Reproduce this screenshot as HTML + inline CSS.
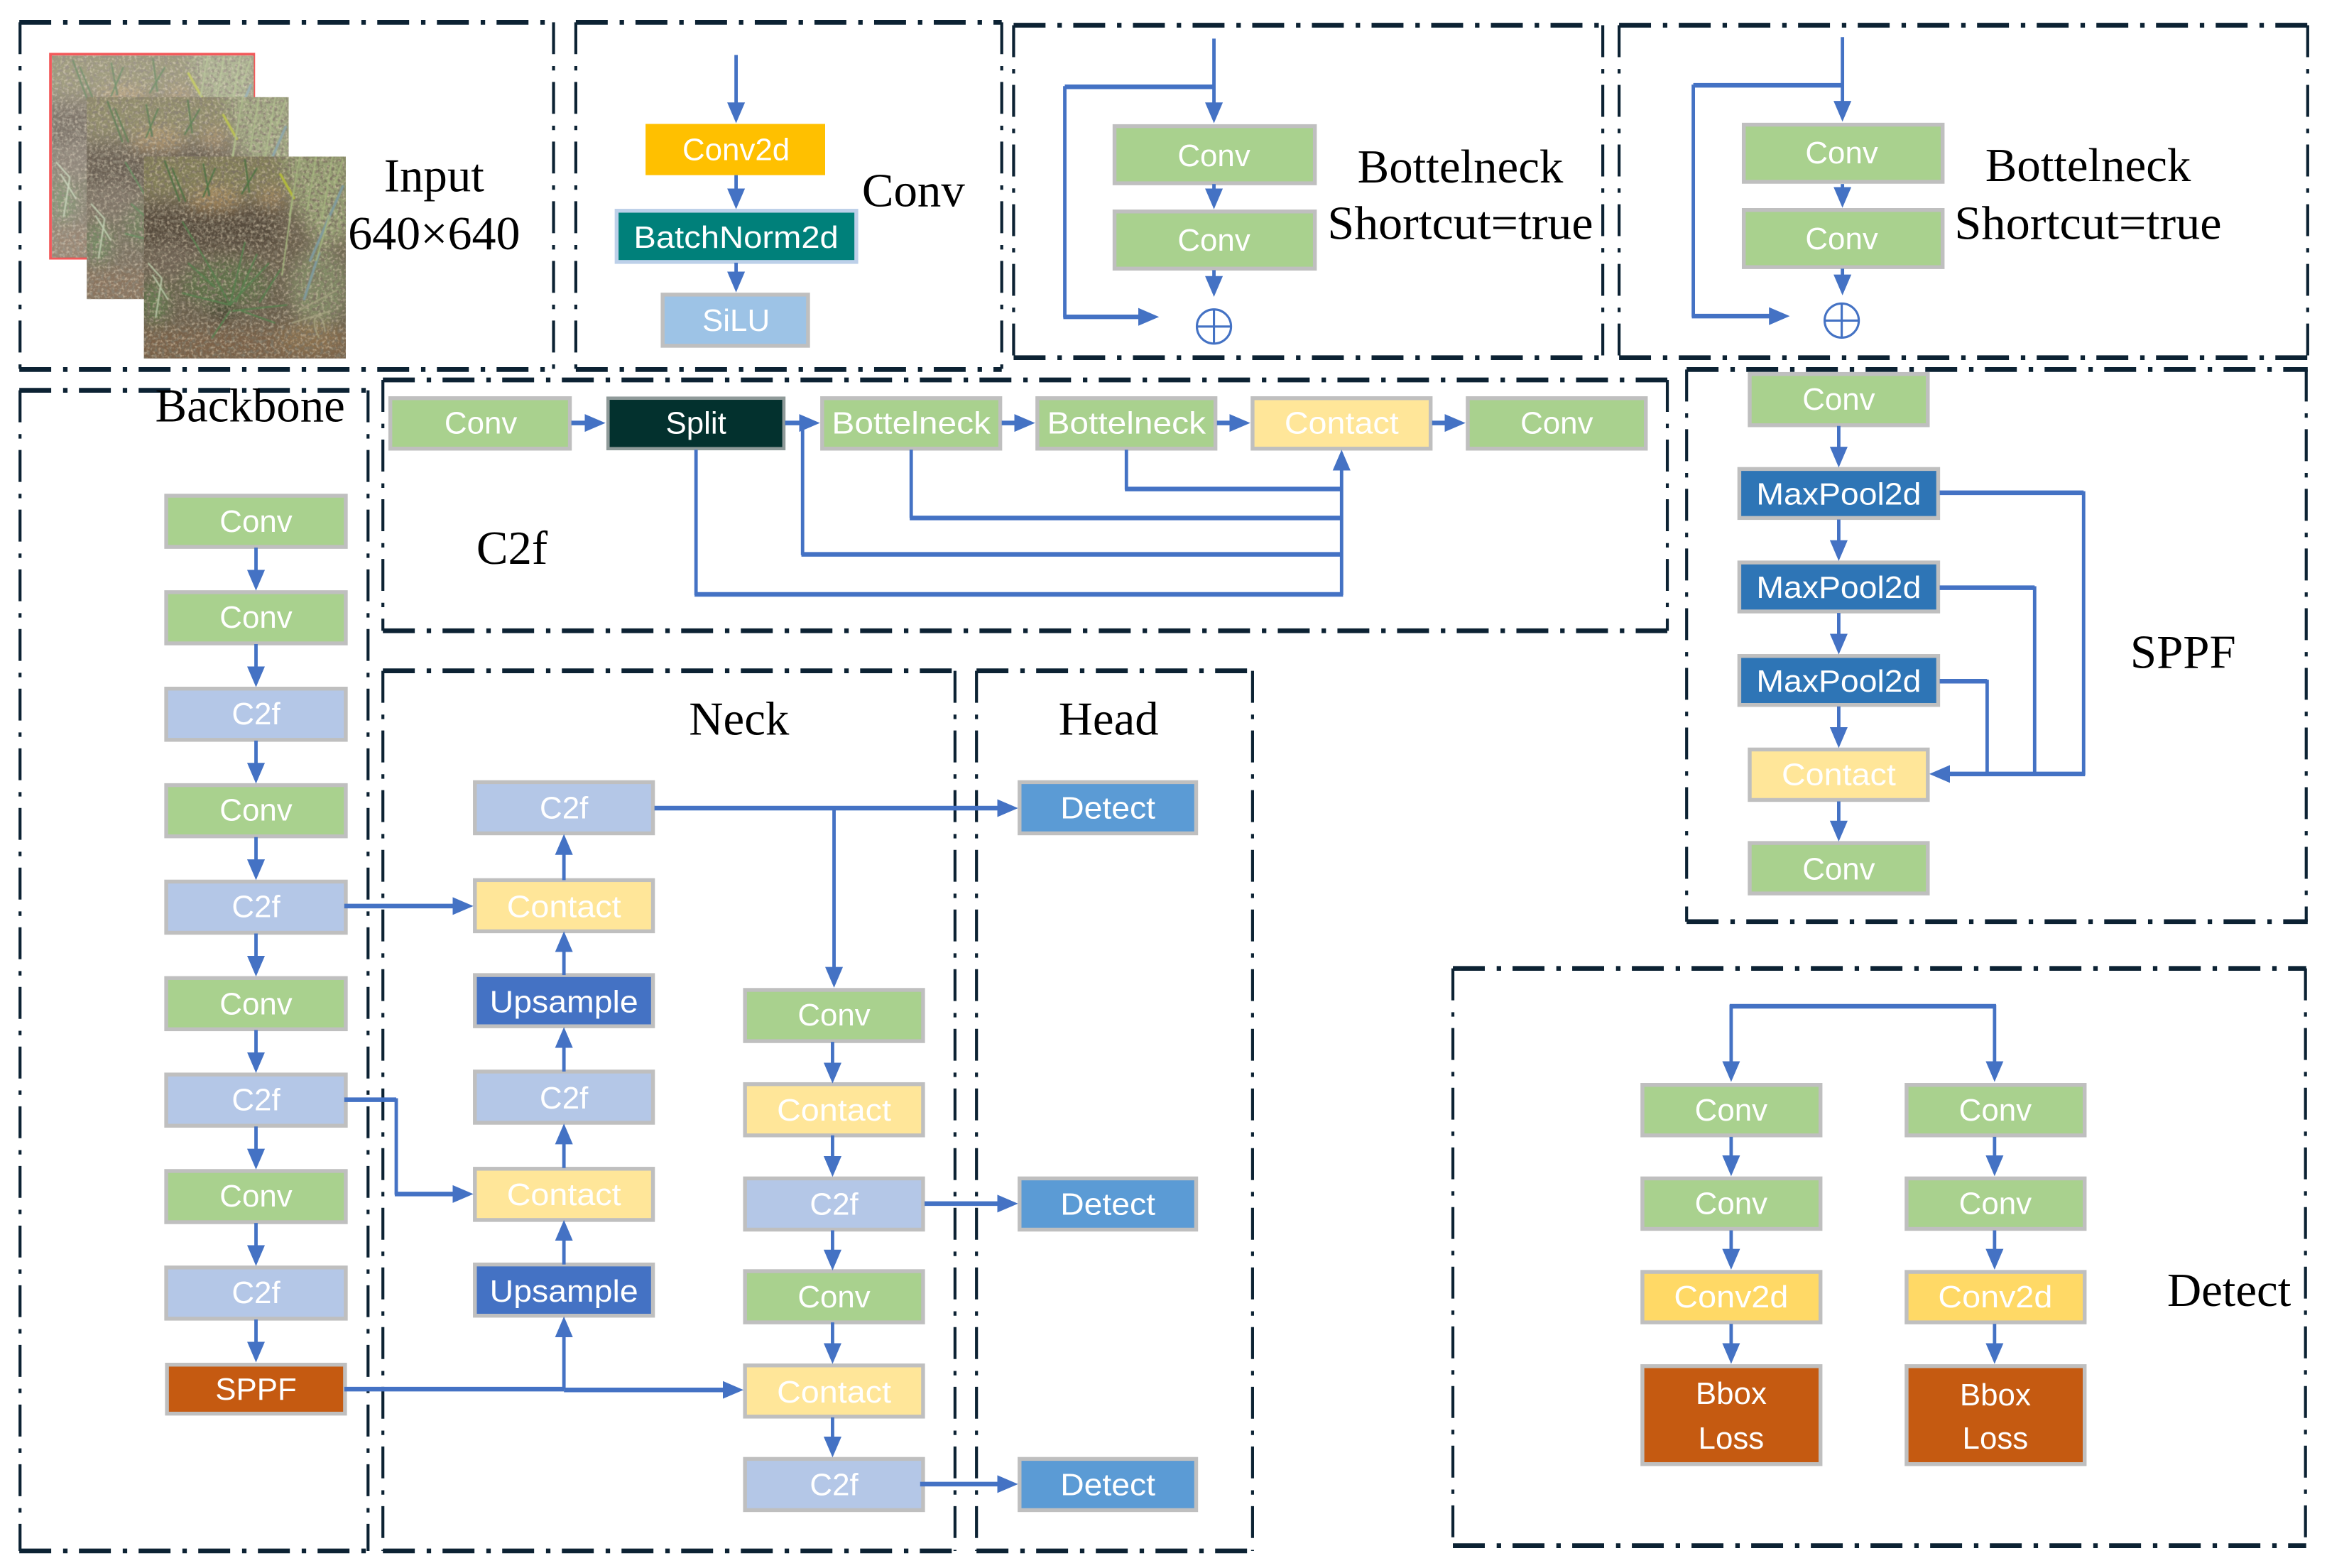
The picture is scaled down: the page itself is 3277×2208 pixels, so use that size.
<!DOCTYPE html>
<html><head><meta charset="utf-8"><title>Network diagram</title>
<style>
html,body{margin:0;padding:0;background:#fff;width:3277px;height:2208px;overflow:hidden}
svg{display:block}
.fh{stroke:#0c2233;stroke-width:3.2;stroke-dasharray:21.5 8 3 7.7;fill:none}
.fv{stroke:#0c2233;stroke-width:2;stroke-dasharray:21.5 8 3 7.7;fill:none}
.b{stroke:#bfbfbf;stroke-width:2.6}
.t{font-family:"Liberation Sans",sans-serif;font-size:21px;fill:#fff;text-anchor:middle}
.s{font-family:"Liberation Serif",serif;font-size:32px;fill:#000;text-anchor:middle}
.v{stroke:#4472c4;stroke-width:2.3;fill:none}
.h{stroke:#4472c4;stroke-width:3.1;fill:none}
.a{marker-end:url(#m)}
.c{fill:#a9d18e}.f{fill:#b4c7e7}.k{fill:#ffe699}.u{fill:#4472c4}.d{fill:#5b9bd5}.p{fill:#2e75b6}.y{fill:#ffd966}.o{fill:#c55a11}
</style></head><body>
<svg xmlns="http://www.w3.org/2000/svg" width="3277" height="2208" viewBox="0 0 1568 1056.5">
<defs>
<marker id="m" markerUnits="userSpaceOnUse" markerWidth="15" markerHeight="14" refX="9" refY="6.5" orient="auto"><path d="M0 0.5L14 6.5L0 12.5Z" fill="#4472c4"/></marker>
<filter id="n" x="0" y="0" width="1" height="1"><feTurbulence type="fractalNoise" baseFrequency=".42" numOctaves="2" seed="4"/><feColorMatrix values="0 0 0 0 .2  0 0 0 0 .17  0 0 0 0 .12  3 0 0 0 -1.25"/></filter>
<filter id="n2" x="0" y="0" width="1" height="1"><feTurbulence type="fractalNoise" baseFrequency=".5" numOctaves="2" seed="9"/><feColorMatrix values="0 0 0 0 .8  0 0 0 0 .68  0 0 0 0 .5  0 3 0 0 -1.45"/></filter>
<filter id="bl" x="-10%" y="-10%" width="120%" height="120%"><feGaussianBlur stdDeviation="5"/></filter>
<filter id="bs"><feGaussianBlur stdDeviation=".35"/></filter>
<clipPath id="pc"><rect width="136" height="136"/></clipPath>
<g id="photo" clip-path="url(#pc)">
<rect width="136" height="136" fill="#6a5f4d"/>
<g filter="url(#bl)">
<rect x="-5" y="-5" width="100" height="32" fill="#84805a"/>
<ellipse cx="48" cy="30" rx="16" ry="9" fill="#a98c60"/>
<ellipse cx="86" cy="27" rx="9" ry="6" fill="#a58a62"/>
<path d="M92 -5H140V55L118 62L100 30Z" fill="#98a276"/>
<rect x="-5" y="34" width="95" height="28" fill="#564b3e"/>
<ellipse cx="18" cy="70" rx="18" ry="12" fill="#6f6454"/>
<ellipse cx="55" cy="86" rx="30" ry="16" fill="#5f6f48"/>
<ellipse cx="118" cy="88" rx="20" ry="26" fill="#828a66"/>
<ellipse cx="8" cy="98" rx="9" ry="14" fill="#617a4d"/>
<rect x="-5" y="116" width="146" height="25" fill="#7a6249"/>
<ellipse cx="112" cy="122" rx="22" ry="10" fill="#8a7150"/>
<ellipse cx="53" cy="104" rx="6" ry="7" fill="#343428"/>
</g>
<rect width="136" height="136" filter="url(#n)"/>
<rect width="136" height="136" filter="url(#n2)" opacity=".5"/>
<g fill="none" stroke-linecap="round" filter="url(#bs)">
<path d="M134 20L112 70M118 65L108 96" stroke="#7f9a9c" stroke-width="1.7"/>
<path d="M92 12L101 28" stroke="#b3bb3a" stroke-width="1.6"/>
<path d="M105 0L98 40M116 0L110 36M127 0L120 42M134 2L128 20M100 30L93 80M125 40L116 70" stroke="#a5b67e" stroke-width=".9"/>
<path d="M14 3L24 30M19 8L28 30M40 5L44 26M48 8L40 27M68 2L71 24M76 8L66 25" stroke="#4e7242" stroke-width="1"/>
<path d="M26 44L44 74L58 100M58 100L68 58M58 100L84 72M58 100L26 92M60 104L96 100M58 104L46 122M62 98L76 66M48 88L30 72M66 104L88 112M92 76L78 98" stroke="#56804e" stroke-width="1"/>
<path d="M3 72L12 82L8 108M6 80L16 96" stroke="#b8c6a6" stroke-width="1"/>
<path d="M118 122C110 108 120 100 122 118M104 104L130 90M100 112L126 104" stroke="#a8a583" stroke-width=".8"/>
</g>
</g>
</defs>
<rect width="1568" height="1056.5" fill="#fff"/>

<!-- photo stack -->
<rect x="34" y="36.5" width="137" height="137.5" fill="none" stroke="#f2595a" stroke-width="1.8"/>
<g transform="translate(35,37.5)"><use href="#photo"/><rect width="136" height="136" fill="#fff" opacity=".24"/></g>
<g transform="translate(58.5,65.5)"><use href="#photo"/><rect width="136" height="136" fill="#fff" opacity=".12"/></g>
<use href="#photo" x="97" y="105.5"/>

<!-- frames -->
<g>
<path class="fh" d="M13 15H373M13 249H373"/><path class="fv" d="M13.5 15V249M373 15V249"/>
<path class="fh" d="M388 15H675M388 249H675"/><path class="fv" d="M388 15V249M675 15V249"/>
<path class="fh" d="M683 17H1080M683 241H1080"/><path class="fv" d="M683 17V241M1080 17V241"/>
<path class="fh" d="M1091 17H1556M1091 241H1556"/><path class="fv" d="M1091 17V241M1555 17V241"/>
<path class="fh" d="M13 263H248M13 1045H248"/><path class="fv" d="M13.5 263V1045M248 263V1045"/>
<path class="fh" d="M258 256H1123.5M258 425H1123.5"/><path class="fv" d="M258 256V425M1123.5 256V425"/>
<path class="fh" d="M258 452H643.5M258 1045H643.5"/><path class="fv" d="M258 452V1045M643.5 452V1045"/>
<path class="fh" d="M658 452H844M658 1045H844"/><path class="fv" d="M658 452V1045M844 452V1045"/>
<path class="fh" d="M1136.5 249H1555M1136.5 621H1555"/><path class="fv" d="M1136.5 249V621M1554 249V621"/>
<path class="fh" d="M979 652.5H1554M979 1041.5H1554"/><path class="fv" d="M979 652.5V1041.5M1553.5 652.5V1041.5"/>
</g>

<!-- Conv block -->
<rect x="435" y="83.5" width="121" height="34.5" fill="#ffc000"/>
<rect x="415.5" y="142" width="161.5" height="34.5" fill="#00807a" stroke="#bdd0e9" stroke-width="2.6"/>
<rect x="446.5" y="198.5" width="98" height="34.5" fill="#9dc3e6" class="b"/>
<text class="t" x="496" y="108">Conv2d</text>
<text class="t" x="496" y="167" textLength="138" lengthAdjust="spacingAndGlyphs">BatchNorm2d</text>
<text class="t" x="496" y="223">SiLU</text>
<path class="v a" d="M496 37V78"/><path class="v a" d="M496 118V136"/><path class="v a" d="M496 177V192"/>

<!-- Bottleneck 1 -->
<rect class="b c" x="751" y="85" width="135" height="38.5"/>
<rect class="b c" x="751" y="142.5" width="135" height="38.5"/>
<text class="t" x="818" y="112">Conv</text><text class="t" x="818" y="169">Conv</text>
<path class="v a" d="M818 26V78"/><path class="v a" d="M818 124V136"/><path class="v a" d="M818 182V195"/>
<path class="h" d="M818 58.5H717.5"/><path class="v" d="M717.5 58V214"/><path class="h a" d="M716.5 213.5H776"/>
<circle cx="818" cy="220" r="11.5" fill="none" stroke="#4472c4" stroke-width="1.5"/><path d="M806.5 220H829.5M818 208.5V231.5" stroke="#4472c4" stroke-width="1.5"/>

<!-- Bottleneck 2 -->
<rect class="b c" x="1175" y="84" width="134" height="38.5"/>
<rect class="b c" x="1175" y="141.5" width="134" height="38.5"/>
<text class="t" x="1241" y="110">Conv</text><text class="t" x="1241" y="168">Conv</text>
<path class="v a" d="M1241.5 25V77"/><path class="v a" d="M1241.5 124V135"/><path class="v a" d="M1241.5 181V194"/>
<path class="h" d="M1241.5 57.5H1141"/><path class="v" d="M1141 57V213.5"/><path class="h a" d="M1140 213H1201"/>
<circle cx="1241" cy="216" r="11.5" fill="none" stroke="#4472c4" stroke-width="1.5"/><path d="M1229.5 216H1252.5M1241 204.5V227.5" stroke="#4472c4" stroke-width="1.5"/>

<!-- C2f row -->
<rect class="b c" x="263" y="268.3" width="121" height="34"/>
<rect x="409.7" y="268.3" width="118.5" height="34" fill="#03312e" stroke="#8f9a99" stroke-width="2.2"/>
<rect class="b c" x="554" y="268.3" width="120" height="34"/>
<rect class="b c" x="699" y="268.3" width="120" height="34"/>
<rect class="b k" x="844" y="268.3" width="120" height="34"/>
<rect class="b c" x="989" y="268.3" width="120" height="34"/>
<text class="t" x="324" y="292">Conv</text>
<text class="t" x="469" y="292">Split</text>
<text class="t" x="614" y="292" textLength="107" lengthAdjust="spacingAndGlyphs">Bottelneck</text>
<text class="t" x="759" y="292" textLength="107" lengthAdjust="spacingAndGlyphs">Bottelneck</text>
<text class="t" x="904" y="292" textLength="77" lengthAdjust="spacingAndGlyphs">Contact</text>
<text class="t" x="1049" y="292">Conv</text>
<path class="h a" d="M385 285H403"/><path class="h a" d="M529 285H547.5"/><path class="h a" d="M675 285H692.5"/><path class="h a" d="M820 285H837.5"/><path class="h a" d="M965 285H982.5"/>
<path class="v" d="M469 303V401"/><path class="h" d="M468 400.5H905"/>
<path class="v" d="M540.8 285V374"/><path class="h" d="M540 373.5H904"/>
<path class="v" d="M614 303V349"/><path class="h" d="M613 349H904"/>
<path class="v" d="M759 303V330"/><path class="h" d="M758 329.5H904"/>
<path class="v a" d="M904 401V308"/>

<!-- Backbone -->
<g>
<rect class="b c" x="112" y="334" width="121" height="34.5"/>
<rect class="b c" x="112" y="399" width="121" height="34.5"/>
<rect class="b f" x="112" y="464" width="121" height="34.5"/>
<rect class="b c" x="112" y="529" width="121" height="34.5"/>
<rect class="b f" x="112" y="594" width="121" height="34.5"/>
<rect class="b c" x="112" y="659" width="121" height="34.5"/>
<rect class="b f" x="112" y="724" width="121" height="34.5"/>
<rect class="b c" x="112" y="789" width="121" height="34.5"/>
<rect class="b f" x="112" y="854" width="121" height="34.5"/>
<rect class="b o" x="112.5" y="919.5" width="120" height="33"/>
<text class="t" x="172.5" y="358.5">Conv</text>
<text class="t" x="172.5" y="423">Conv</text>
<text class="t" x="172.5" y="488">C2f</text>
<text class="t" x="172.5" y="553">Conv</text>
<text class="t" x="172.5" y="618">C2f</text>
<text class="t" x="172.5" y="683.5">Conv</text>
<text class="t" x="172.5" y="748">C2f</text>
<text class="t" x="172.5" y="813">Conv</text>
<text class="t" x="172.5" y="878">C2f</text>
<text class="t" x="172.5" y="943">SPPF</text>
<path class="v a" d="M172.5 369V393"/><path class="v a" d="M172.5 434V458"/><path class="v a" d="M172.5 499V523"/><path class="v a" d="M172.5 564V588"/><path class="v a" d="M172.5 629V653"/><path class="v a" d="M172.5 694V718"/><path class="v a" d="M172.5 759V783"/><path class="v a" d="M172.5 824V848"/><path class="v a" d="M172.5 889V913"/>
</g>

<!-- Neck col 1 -->
<g>
<rect class="b f" x="320" y="527" width="120" height="34.5"/>
<rect class="b k" x="320" y="593" width="120" height="34.5"/>
<rect class="b u" x="320" y="657" width="120" height="34.5"/>
<rect class="b f" x="320" y="722" width="120" height="34.5"/>
<rect class="b k" x="320" y="787.5" width="120" height="34.5"/>
<rect class="b u" x="320" y="852" width="120" height="34.5"/>
<text class="t" x="380" y="551.5">C2f</text>
<text class="t" x="380" y="618" textLength="77" lengthAdjust="spacingAndGlyphs">Contact</text>
<text class="t" x="380" y="682" textLength="100" lengthAdjust="spacingAndGlyphs">Upsample</text>
<text class="t" x="380" y="747">C2f</text>
<text class="t" x="380" y="812" textLength="77" lengthAdjust="spacingAndGlyphs">Contact</text>
<text class="t" x="380" y="877" textLength="100" lengthAdjust="spacingAndGlyphs">Upsample</text>
<path class="v a" d="M380 593V567"/><path class="v a" d="M380 657V632.5"/><path class="v a" d="M380 722V697"/><path class="v a" d="M380 787V762"/><path class="v a" d="M380 852V827"/><path class="v a" d="M380 936V892"/>
</g>

<!-- Neck col 2 -->
<g>
<rect class="b c" x="502" y="667" width="120" height="34.5"/>
<rect class="b k" x="502" y="730.5" width="120" height="34.5"/>
<rect class="b f" x="502" y="794" width="120" height="34.5"/>
<rect class="b c" x="502" y="856.5" width="120" height="34.5"/>
<rect class="b k" x="502" y="920" width="120" height="34.5"/>
<rect class="b f" x="502" y="983" width="120" height="34.5"/>
<text class="t" x="562" y="691">Conv</text>
<text class="t" x="562" y="755" textLength="77" lengthAdjust="spacingAndGlyphs">Contact</text>
<text class="t" x="562" y="818.5">C2f</text>
<text class="t" x="562" y="881">Conv</text>
<text class="t" x="562" y="945" textLength="77" lengthAdjust="spacingAndGlyphs">Contact</text>
<text class="t" x="562" y="1007.5">C2f</text>
<path class="v a" d="M561 702V725"/><path class="v a" d="M561 765V788"/><path class="v a" d="M561 829V851"/><path class="v a" d="M561 891V914"/><path class="v a" d="M561 955V977"/>
<path class="v a" d="M562 544V660.5"/>
</g>

<!-- Head -->
<rect class="b d" x="687" y="527" width="119" height="34.5"/>
<rect class="b d" x="687" y="794" width="119" height="34.5"/>
<rect class="b d" x="687" y="983" width="119" height="34.5"/>
<text class="t" x="746.5" y="551.5" textLength="64" lengthAdjust="spacingAndGlyphs">Detect</text>
<text class="t" x="746.5" y="818.5" textLength="64" lengthAdjust="spacingAndGlyphs">Detect</text>
<text class="t" x="746.5" y="1007.5" textLength="64" lengthAdjust="spacingAndGlyphs">Detect</text>

<!-- Cross connectors -->
<path class="h a" d="M441 544.5H681"/>
<path class="h a" d="M623 811H681"/>
<path class="h a" d="M620 1000H681"/>
<path class="h a" d="M232 610.5H314"/>
<path class="h" d="M232 741H267"/><path class="v" d="M267 740V805"/><path class="h a" d="M266 804.5H314"/>
<path class="h" d="M232 936H380"/><path class="h a" d="M380 936.5H496"/>

<!-- SPPF -->
<g>
<rect class="b c" x="1179" y="252" width="120" height="34.5"/>
<rect class="b p" x="1172" y="316" width="134" height="33" stroke-width="2"/>
<rect class="b p" x="1172" y="379" width="134" height="33"/>
<rect class="b p" x="1172" y="442" width="134" height="33"/>
<rect class="b k" x="1179" y="505" width="120" height="34"/>
<rect class="b c" x="1179" y="568" width="120" height="34"/>
<text class="t" x="1239" y="276">Conv</text>
<text class="t" x="1239" y="340" textLength="111" lengthAdjust="spacingAndGlyphs">MaxPool2d</text>
<text class="t" x="1239" y="403" textLength="111" lengthAdjust="spacingAndGlyphs">MaxPool2d</text>
<text class="t" x="1239" y="466" textLength="111" lengthAdjust="spacingAndGlyphs">MaxPool2d</text>
<text class="t" x="1239" y="529" textLength="77" lengthAdjust="spacingAndGlyphs">Contact</text>
<text class="t" x="1239" y="592.5">Conv</text>
<path class="v a" d="M1239 287V310"/><path class="v a" d="M1239 350V373"/><path class="v a" d="M1239 413V436"/><path class="v a" d="M1239 476V499"/><path class="v a" d="M1239 540V562"/>
<path class="h" d="M1307 332H1404"/><path class="v" d="M1404 331V522"/>
<path class="h" d="M1307 396H1371"/><path class="v" d="M1371 395V522"/>
<path class="h" d="M1307 459H1339"/><path class="v" d="M1339 458V522"/>
<path class="h a" d="M1405 521.5H1305"/>
</g>

<!-- Detect -->
<g>
<path class="h" d="M1165.5 678H1345"/>
<path class="v a" d="M1166.5 677V724"/><path class="v a" d="M1344 677V724"/>
<rect class="b c" x="1106.7" y="731" width="120" height="34"/>
<rect class="b c" x="1106.7" y="794" width="120" height="34"/>
<rect class="b y" x="1106.7" y="857" width="120" height="34"/>
<rect class="b o" x="1106.7" y="920.5" width="120" height="66"/>
<rect class="b c" x="1284.7" y="731" width="120" height="34"/>
<rect class="b c" x="1284.7" y="794" width="120" height="34"/>
<rect class="b y" x="1284.7" y="857" width="120" height="34"/>
<rect class="b o" x="1284.7" y="920.5" width="120" height="66"/>
<text class="t" x="1166.5" y="755">Conv</text><text class="t" x="1166.5" y="818">Conv</text>
<text class="t" x="1166.5" y="881" textLength="77" lengthAdjust="spacingAndGlyphs">Conv2d</text>
<text class="t" x="1166.5" y="946">Bbox</text><text class="t" x="1166.5" y="976">Loss</text>
<text class="t" x="1344.5" y="755">Conv</text><text class="t" x="1344.5" y="818">Conv</text>
<text class="t" x="1344.5" y="881" textLength="77" lengthAdjust="spacingAndGlyphs">Conv2d</text>
<text class="t" x="1344.5" y="947">Bbox</text><text class="t" x="1344.5" y="976">Loss</text>
<path class="v a" d="M1166.5 766V787.5"/><path class="v a" d="M1166.5 829V850.5"/><path class="v a" d="M1166.5 892V914"/>
<path class="v a" d="M1344 766V787.5"/><path class="v a" d="M1344 829V850.5"/><path class="v a" d="M1344 892V914"/>
</g>

<!-- Serif labels -->
<text class="s" x="292.5" y="129">Input</text>
<text class="s" x="292.5" y="168" textLength="116" lengthAdjust="spacingAndGlyphs">640×640</text>
<text class="s" x="615.5" y="139">Conv</text>
<text class="s" x="984" y="123">Bottelneck</text>
<text class="s" x="984" y="161" textLength="179" lengthAdjust="spacingAndGlyphs">Shortcut=true</text>
<text class="s" x="1407" y="122">Bottelneck</text>
<text class="s" x="1407" y="161" textLength="180" lengthAdjust="spacingAndGlyphs">Shortcut=true</text>
<text class="s" x="168.5" y="284">Backbone</text>
<text class="s" x="345" y="380">C2f</text>
<text class="s" x="498" y="495">Neck</text>
<text class="s" x="747" y="495">Head</text>
<text class="s" x="1471" y="450">SPPF</text>
<text class="s" x="1502" y="880">Detect</text>
</svg>
</body></html>
